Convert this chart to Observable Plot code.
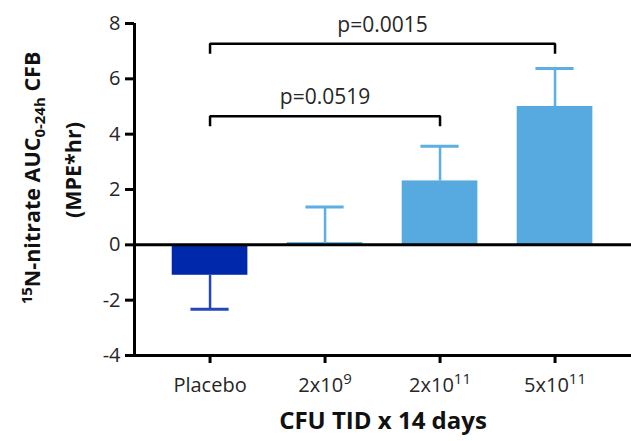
<!DOCTYPE html>
<html>
<head>
<meta charset="utf-8">
<script src="https://cdn.jsdelivr.net/npm/d3@7"></script>
<script src="https://cdn.jsdelivr.net/npm/@observablehq/plot@0.6"></script>
<style>
  html, body { margin: 0; padding: 0; background: #fff; }
  #chart { width: 631px; height: 441px; }
</style>
</head>
<body>
<div id="chart"></div>
<script>
// ---- data ----
const categories = ["Placebo", "2x10^9", "2x10^11", "5x10^11"];
const means = [-1.10, 0.08, 2.31, 5.00];
const errors = [1.23, 1.29, 1.25, 1.37];
const barColors = ["#0028aa", "#56aae0", "#56aae0", "#56aae0"];
const errColors = ["#2446b8", "#5cafe3", "#5cafe3", "#5cafe3"];
const yTicks = [-4, -2, 0, 2, 4, 6, 8];
const compFrom = [0, 0];
const compTo = [2, 3];
const compLevel = [4.65, 7.27];
const compLabels = ["p=0.0519", "p=0.0015"];
const xTitle = "CFU TID x 14 days";

// ---- derived tables ----
const bars = categories.map((c, i) => ({
  i, cat: c, mean: means[i],
  end: means[i] + Math.sign(means[i]) * errors[i],
  fill: barColors[i], err: errColors[i]
}));
const comps = compLabels.map((label, k) => ({
  label, from: compFrom[k], to: compTo[k], level: compLevel[k]
}));
const drop = 0.36;
const bracketPts = comps.flatMap((c, k) => [
  {id: k, x: c.from, y: c.level - drop},
  {id: k, x: c.from, y: c.level},
  {id: k, x: c.to, y: c.level},
  {id: k, x: c.to, y: c.level - drop}
]);

const xDomain = [-0.657, 3.665];
const halfBar = 0.329, halfCap = 0.166;

const svg = Plot.plot({
  width: 631, height: 441,
  marginLeft: 134, marginRight: 0, marginTop: 23, marginBottom: 86,
  style: {fontFamily: "Open Sans", fontSize: "20px", color: "#222", background: "white", overflow: "visible"},
  x: {type: "linear", domain: xDomain, axis: null, label: null},
  y: {domain: [-4, 8], axis: null, label: null},
  color: {type: "identity"},
  marks: [
    Plot.rectY(bars, {x1: d => d.i - halfBar, x2: d => d.i + halfBar, y1: 0, y2: "mean", fill: "fill"}),
    Plot.ruleX(bars, {x: "i", y1: "mean", y2: "end", stroke: "err", strokeWidth: 2.5}),
    Plot.ruleY(bars, {x1: d => d.i - halfCap, x2: d => d.i + halfCap, y: "end", stroke: "err", strokeWidth: 3}),
    Plot.ruleY([0], {stroke: "black", strokeWidth: 3}),
    Plot.ruleY([-4], {stroke: "black", strokeWidth: 3}),
    Plot.ruleX([xDomain[0]], {y1: -4, y2: 8, stroke: "black", strokeWidth: 3}),
    Plot.axisY({ticks: yTicks, tickSize: 9, tickPadding: 5, strokeWidth: 3, stroke: "black",
                tickFormat: d => String(d), fontSize: 20, fill: "#262626", label: null}),
    Plot.axisX({ticks: categories.map((c, i) => i), tickSize: 8, tickPadding: 14, strokeWidth: 3, stroke: "black",
                tickFormat: i => categories[i], fontSize: 20, fill: "#262626", label: null}),
    Plot.line(bracketPts, {x: "x", y: "y", z: "id", stroke: "black", strokeWidth: 2.5,
                           strokeLinejoin: "miter", strokeLinecap: "butt"}),
    Plot.text(comps, {x: d => (d.from + d.to) / 2, y: d => d.level + 0.68, text: "label",
                      fontSize: 21, fill: "#262626"}),
    Plot.text([xTitle], {frameAnchor: "bottom", dy: 73, text: d => d, fontWeight: "bold",
                         fontSize: 24, fill: "#111"})
  ]
});

// superscripts in x tick labels
svg.querySelectorAll('g[aria-label="x-axis tick label"] text').forEach(t => {
  const s = t.textContent;
  if (s.includes("^")) {
    const [base, exp] = s.split("^");
    t.textContent = base;
    const ts = document.createElementNS("http://www.w3.org/2000/svg", "tspan");
    ts.setAttribute("font-size", "15");
    ts.setAttribute("dy", "-8");
    ts.textContent = exp;
    t.appendChild(ts);
  }
});

// y-axis title with super/subscripts
const sel = d3.select(svg);
const t1 = sel.append("text")
  .attr("transform", "translate(40,178) rotate(-90)")
  .attr("text-anchor", "middle")
  .attr("font-family", "Open Sans").attr("font-weight", "bold").attr("font-size", 21.5).attr("fill", "#111");
t1.append("tspan").attr("font-size", 15).attr("dy", -8).text("15");
t1.append("tspan").attr("dy", 8).text("N-nitrate AUC");
t1.append("tspan").attr("font-size", 15).attr("dy", 5).text("0-24h");
t1.append("tspan").attr("dy", -5).text("\u00a0CFB");
sel.append("text")
  .attr("transform", "translate(81,170) rotate(-90)")
  .attr("text-anchor", "middle")
  .attr("font-family", "Open Sans").attr("font-weight", "bold").attr("font-size", 21.5).attr("fill", "#111")
  .text("(MPE*hr)");

document.getElementById("chart").appendChild(svg);
</script>
</body>
</html>
